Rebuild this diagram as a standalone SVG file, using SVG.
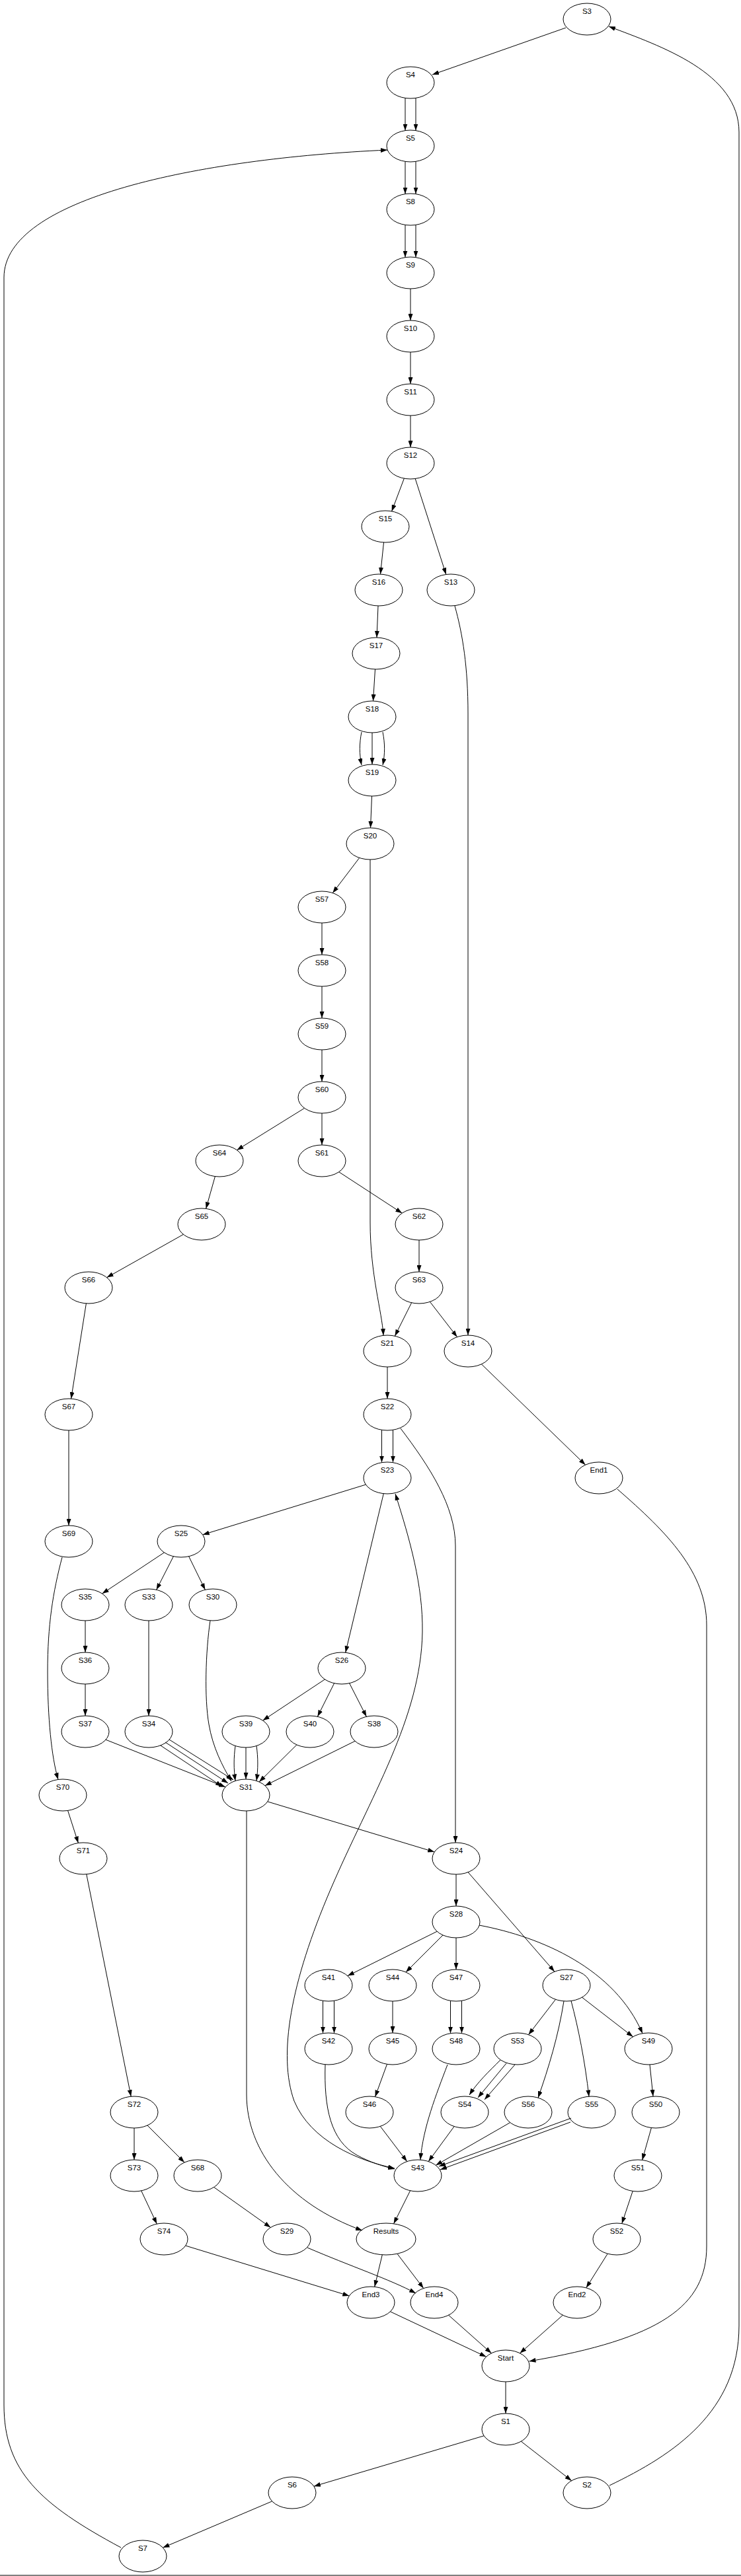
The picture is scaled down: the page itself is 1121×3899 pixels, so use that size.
<svg xmlns="http://www.w3.org/2000/svg" width="1121" height="3899" viewBox="0 0 1121 3899">
<style>
.node ellipse{fill:none;stroke:#000;stroke-width:1}
.node text{font-family:"Liberation Sans",Arial,sans-serif;font-size:11.5px;text-anchor:middle;fill:#000}
.edge path{fill:none;stroke:#000;stroke-width:1;marker-end:url(#ah)}
</style>
<defs>
<marker id="ah" viewBox="0 0 10 7" refX="10" refY="3.5" markerWidth="10" markerHeight="7" markerUnits="userSpaceOnUse" orient="auto"><path d="M0,0 L10,3.5 L0,7 z" fill="#000"/></marker>
<marker id="ahs" viewBox="0 0 10 7" refX="10" refY="3.5" markerWidth="10" markerHeight="7" markerUnits="userSpaceOnUse" orient="auto-start-reverse"><path d="M0,0 L10,3.5 L0,7 z" fill="#000"/></marker>
</defs>
<rect x="0" y="0" width="1121" height="3899" fill="#fff"/>
<line x1="0" y1="3898" x2="1121" y2="3898" stroke="#808080" stroke-width="2"/>
<g id="edges" class="edge">
<path d="M856,42 L654,113"/>
<path d="M613,148.5 L613,197.5"/>
<path d="M629,148.5 L629,197.5"/>
<path d="M613,244.5 L613,293.5"/>
<path d="M629,244.5 L629,293.5"/>
<path d="M613,340.5 L613,389.5"/>
<path d="M629,340.5 L629,389.5"/>
<path d="M621,437 L621,485"/>
<path d="M621,533 L621,581"/>
<path d="M621,629 L621,677"/>
<path d="M611.4,724.1 L592.6,773.9"/>
<path d="M628.2,724.5 L674.8,869.5"/>
<path d="M580.5,821 L575.5,869"/>
<path d="M572,917 L570,965"/>
<path d="M567.5,1013 L564.5,1061"/>
<path d="M547,1108 C543.5,1125 543.5,1142 547,1158"/>
<path d="M563,1109 L563,1157"/>
<path d="M579,1108 C582.5,1125 582.5,1142 579,1158"/>
<path d="M562.5,1205 L560.5,1253"/>
<path d="M543.7,1298.4 L503.3,1351.6"/>
<path d="M560,1301 L560,1850 C560,1930 578,1985 580,2021.3"/>
<path d="M688,917 C700,960 708,1010 708,1080 L708,2021"/>
<path d="M487,1397 L487,1445"/>
<path d="M487,1493 L487,1541"/>
<path d="M487,1589 L487,1637"/>
<path d="M460.6,1677.3 L358.4,1740.7"/>
<path d="M487,1685 L487,1733"/>
<path d="M512.7,1773.8 L608.3,1836.2"/>
<path d="M325.4,1780.6 L311.6,1829.4"/>
<path d="M277.4,1868.4 L161.6,1933.6"/>
<path d="M634,1877 L634,1925"/>
<path d="M622.6,1971.8 L597.4,2022.2"/>
<path d="M650.4,1970.3 L691.6,2023.7"/>
<path d="M130.4,1972.9 L107.6,2117.1"/>
<path d="M586,2069 L586,2117"/>
<path d="M728.4,2064.8 L885.6,2217.2"/>
<path d="M577.5,2164.5 L577.5,2213.5"/>
<path d="M594.5,2164.5 L594.5,2213.5"/>
<path d="M606,2162 C650,2220 689,2280 689,2340 L689,2789"/>
<path d="M934,2254 C1010,2320 1069,2380 1069,2460 L1069,3400 C1069,3490 1000,3540 800.5,3574"/>
<path d="M553.3,2247.1 L306.7,2322.9"/>
<path d="M580.3,2260.7 L522.7,2501.3"/>
<path d="M598,2261 C620,2330 640,2400 639,2470 C637,2600 560,2720 500,2860 C440,3000 420,3110 445,3180 C470,3240 540,3270 597,3282" marker-start="url(#ahs)"/>
<path d="M248.4,2349.9 L154.6,2412.1"/>
<path d="M262.4,2355.7 L236.6,2406.3"/>
<path d="M285.6,2355.7 L310.4,2406.3"/>
<path d="M129,2453 L129,2501"/>
<path d="M129,2549 L129,2597"/>
<path d="M225,2453 L225,2597"/>
<path d="M318,2453 C311,2500 309,2570 316,2610 C322,2645 336,2672 350,2696"/>
<path d="M491.4,2541.9 L397.6,2604.1"/>
<path d="M505.6,2547.8 L480.4,2598.2"/>
<path d="M528.6,2547.7 L554.4,2598.3"/>
<path d="M160,2633.2 L341,2704.8"/>
<path d="M243,2642 L336,2704"/>
<path d="M250,2637 L345,2699"/>
<path d="M256,2633 L353,2694"/>
<path d="M356,2642.5 C353.5,2660 353.5,2678 356,2695.5"/>
<path d="M372,2645 L372,2693"/>
<path d="M388,2642.5 C390.5,2660 390.5,2678 388,2695.5"/>
<path d="M448.9,2640.9 L392.1,2697.1"/>
<path d="M537.1,2635.3 L400.9,2702.7"/>
<path d="M404.8,2726.9 L657.2,2803.1"/>
<path d="M373,2741 L373,3170 C373,3255 435,3335 548,3376"/>
<path d="M94,2357 C80,2410 72,2460 72,2530 C72,2600 78,2660 88,2693.5"/>
<path d="M104,2165 L104,2309"/>
<path d="M102.6,2740.5 L118.4,2789.5"/>
<path d="M130.8,2836.8 L198.2,3173.2"/>
<path d="M690,2837 L690,2885"/>
<path d="M708.1,2833.8 L838.9,2984.2"/>
<path d="M661.1,2923.4 L525.9,2990.6"/>
<path d="M670,2929 L614,2985"/>
<path d="M690,2933 L690,2981"/>
<path d="M725,2914 C820,2932 930,2980 972,3077.8"/>
<path d="M488.5,3028.4 L488.5,3077.6"/>
<path d="M505.5,3028.4 L505.5,3077.6"/>
<path d="M594,3029 L594,3077"/>
<path d="M681.5,3028.4 L681.5,3077.6"/>
<path d="M698.5,3028.4 L698.5,3077.6"/>
<path d="M840.5,3026.3 L799.5,3079.7"/>
<path d="M853,3029 C845,3080 830,3130 814,3175.2"/>
<path d="M864,3028.5 C875,3070 885,3120 891,3173.5"/>
<path d="M880.5,3023.2 L957.5,3082.8"/>
<path d="M492,3125 C490,3190 500,3240 540,3262 C560,3273 580,3279 597,3283"/>
<path d="M585.5,3124.3 L567.5,3173.7"/>
<path d="M677,3125 C660,3170 640,3220 636,3269"/>
<path d="M757,3118 C740,3135 722,3152 710,3171"/>
<path d="M766,3123 L723,3175"/>
<path d="M779,3125 L733,3178"/>
<path d="M983,3125 L988,3173"/>
<path d="M575.3,3218.4 L615.7,3271.6"/>
<path d="M687.2,3218.4 L648.2,3271.6"/>
<path d="M771.7,3212.7 L659.3,3277.3"/>
<path d="M864,3206 L664,3279"/>
<path d="M863,3212 L666,3284"/>
<path d="M985.4,3220.6 L971.6,3269.4"/>
<path d="M203,3221 L203,3269"/>
<path d="M223,3217 L279,3273"/>
<path d="M620.6,3315.8 L595.6,3365.8"/>
<path d="M957.2,3316.4 L940.8,3365.6"/>
<path d="M213.7,3315.9 L237.3,3366.1"/>
<path d="M323.6,3310.5 L409.4,3371.5"/>
<path d="M280.7,3399 L528.3,3475"/>
<path d="M465,3402 C530,3430 590,3450 629,3471"/>
<path d="M578.3,3412.8 L566.7,3461.3"/>
<path d="M600.9,3411.2 L640.7,3463.6"/>
<path d="M919.2,3411.2 L886.8,3462.8"/>
<path d="M590.4,3498.8 L735.6,3567.2"/>
<path d="M678.6,3504.2 L743.4,3561.8"/>
<path d="M851.4,3504.2 L786.6,3561.8"/>
<path d="M765,3605 L765,3653"/>
<path d="M732.1,3686.8 L474.9,3763.2"/>
<path d="M788.4,3695.3 L864.6,3754.7"/>
<path d="M411.6,3785.9 L246.4,3856.1"/>
<path d="M183,3856 C60,3790 6,3740 6,3640 L6,420 C6,300 300,240 586,227"/>
<path d="M922,3762 C1020,3715 1118,3650 1118,3520 L1118,200 C1118,110 1000,70 921,40"/>
</g>
<g id="S3" class="node"><ellipse cx="888" cy="29" rx="36" ry="24"/><text x="888" y="21">S3</text></g>
<g id="S4" class="node"><ellipse cx="621" cy="125" rx="36" ry="24"/><text x="621" y="117">S4</text></g>
<g id="S5" class="node"><ellipse cx="621" cy="221" rx="36" ry="24"/><text x="621" y="213">S5</text></g>
<g id="S8" class="node"><ellipse cx="621" cy="317" rx="36" ry="24"/><text x="621" y="309">S8</text></g>
<g id="S9" class="node"><ellipse cx="621" cy="413" rx="36" ry="24"/><text x="621" y="405">S9</text></g>
<g id="S10" class="node"><ellipse cx="621" cy="509" rx="36" ry="24"/><text x="621" y="501">S10</text></g>
<g id="S11" class="node"><ellipse cx="621" cy="605" rx="36" ry="24"/><text x="621" y="597">S11</text></g>
<g id="S12" class="node"><ellipse cx="621" cy="701" rx="36" ry="24"/><text x="621" y="693">S12</text></g>
<g id="S15" class="node"><ellipse cx="583" cy="797" rx="36" ry="24"/><text x="583" y="789">S15</text></g>
<g id="S16" class="node"><ellipse cx="573" cy="893" rx="36" ry="24"/><text x="573" y="885">S16</text></g>
<g id="S13" class="node"><ellipse cx="682" cy="893" rx="36" ry="24"/><text x="682" y="885">S13</text></g>
<g id="S17" class="node"><ellipse cx="569" cy="989" rx="36" ry="24"/><text x="569" y="981">S17</text></g>
<g id="S18" class="node"><ellipse cx="563" cy="1085" rx="36" ry="24"/><text x="563" y="1077">S18</text></g>
<g id="S19" class="node"><ellipse cx="563" cy="1181" rx="36" ry="24"/><text x="563" y="1173">S19</text></g>
<g id="S20" class="node"><ellipse cx="560" cy="1277" rx="36" ry="24"/><text x="560" y="1269">S20</text></g>
<g id="S57" class="node"><ellipse cx="487" cy="1373" rx="36" ry="24"/><text x="487" y="1365">S57</text></g>
<g id="S58" class="node"><ellipse cx="487" cy="1469" rx="36" ry="24"/><text x="487" y="1461">S58</text></g>
<g id="S59" class="node"><ellipse cx="487" cy="1565" rx="36" ry="24"/><text x="487" y="1557">S59</text></g>
<g id="S60" class="node"><ellipse cx="487" cy="1661" rx="36" ry="24"/><text x="487" y="1653">S60</text></g>
<g id="S64" class="node"><ellipse cx="332" cy="1757" rx="36" ry="24"/><text x="332" y="1749">S64</text></g>
<g id="S61" class="node"><ellipse cx="487" cy="1757" rx="36" ry="24"/><text x="487" y="1749">S61</text></g>
<g id="S65" class="node"><ellipse cx="305" cy="1853" rx="36" ry="24"/><text x="305" y="1845">S65</text></g>
<g id="S62" class="node"><ellipse cx="634" cy="1853" rx="36" ry="24"/><text x="634" y="1845">S62</text></g>
<g id="S66" class="node"><ellipse cx="134" cy="1949" rx="36" ry="24"/><text x="134" y="1941">S66</text></g>
<g id="S63" class="node"><ellipse cx="634" cy="1949" rx="36" ry="24"/><text x="634" y="1941">S63</text></g>
<g id="S21" class="node"><ellipse cx="586" cy="2045" rx="36" ry="24"/><text x="586" y="2037">S21</text></g>
<g id="S14" class="node"><ellipse cx="708" cy="2045" rx="36" ry="24"/><text x="708" y="2037">S14</text></g>
<g id="S67" class="node"><ellipse cx="104" cy="2141" rx="36" ry="24"/><text x="104" y="2133">S67</text></g>
<g id="S22" class="node"><ellipse cx="586" cy="2141" rx="36" ry="24"/><text x="586" y="2133">S22</text></g>
<g id="S23" class="node"><ellipse cx="586" cy="2237" rx="36" ry="24"/><text x="586" y="2229">S23</text></g>
<g id="End1" class="node"><ellipse cx="906" cy="2237" rx="36" ry="24"/><text x="906" y="2229">End1</text></g>
<g id="S69" class="node"><ellipse cx="104" cy="2333" rx="36" ry="24"/><text x="104" y="2325">S69</text></g>
<g id="S25" class="node"><ellipse cx="274" cy="2333" rx="36" ry="24"/><text x="274" y="2325">S25</text></g>
<g id="S35" class="node"><ellipse cx="129" cy="2429" rx="36" ry="24"/><text x="129" y="2421">S35</text></g>
<g id="S33" class="node"><ellipse cx="225" cy="2429" rx="36" ry="24"/><text x="225" y="2421">S33</text></g>
<g id="S30" class="node"><ellipse cx="322" cy="2429" rx="36" ry="24"/><text x="322" y="2421">S30</text></g>
<g id="S36" class="node"><ellipse cx="129" cy="2525" rx="36" ry="24"/><text x="129" y="2517">S36</text></g>
<g id="S26" class="node"><ellipse cx="517" cy="2525" rx="36" ry="24"/><text x="517" y="2517">S26</text></g>
<g id="S37" class="node"><ellipse cx="129" cy="2621" rx="36" ry="24"/><text x="129" y="2613">S37</text></g>
<g id="S34" class="node"><ellipse cx="225" cy="2621" rx="36" ry="24"/><text x="225" y="2613">S34</text></g>
<g id="S39" class="node"><ellipse cx="372" cy="2621" rx="36" ry="24"/><text x="372" y="2613">S39</text></g>
<g id="S40" class="node"><ellipse cx="469" cy="2621" rx="36" ry="24"/><text x="469" y="2613">S40</text></g>
<g id="S38" class="node"><ellipse cx="566" cy="2621" rx="36" ry="24"/><text x="566" y="2613">S38</text></g>
<g id="S70" class="node"><ellipse cx="95" cy="2717" rx="36" ry="24"/><text x="95" y="2709">S70</text></g>
<g id="S31" class="node"><ellipse cx="372" cy="2717" rx="36" ry="24"/><text x="372" y="2709">S31</text></g>
<g id="S71" class="node"><ellipse cx="126" cy="2813" rx="36" ry="24"/><text x="126" y="2805">S71</text></g>
<g id="S24" class="node"><ellipse cx="690" cy="2813" rx="36" ry="24"/><text x="690" y="2805">S24</text></g>
<g id="S28" class="node"><ellipse cx="690" cy="2909" rx="36" ry="24"/><text x="690" y="2901">S28</text></g>
<g id="S41" class="node"><ellipse cx="497" cy="3005" rx="36" ry="24"/><text x="497" y="2997">S41</text></g>
<g id="S44" class="node"><ellipse cx="594" cy="3005" rx="36" ry="24"/><text x="594" y="2997">S44</text></g>
<g id="S47" class="node"><ellipse cx="690" cy="3005" rx="36" ry="24"/><text x="690" y="2997">S47</text></g>
<g id="S27" class="node"><ellipse cx="857" cy="3005" rx="36" ry="24"/><text x="857" y="2997">S27</text></g>
<g id="S42" class="node"><ellipse cx="497" cy="3101" rx="36" ry="24"/><text x="497" y="3093">S42</text></g>
<g id="S45" class="node"><ellipse cx="594" cy="3101" rx="36" ry="24"/><text x="594" y="3093">S45</text></g>
<g id="S48" class="node"><ellipse cx="690" cy="3101" rx="36" ry="24"/><text x="690" y="3093">S48</text></g>
<g id="S53" class="node"><ellipse cx="783" cy="3101" rx="36" ry="24"/><text x="783" y="3093">S53</text></g>
<g id="S49" class="node"><ellipse cx="981" cy="3101" rx="36" ry="24"/><text x="981" y="3093">S49</text></g>
<g id="S72" class="node"><ellipse cx="203" cy="3197" rx="36" ry="24"/><text x="203" y="3189">S72</text></g>
<g id="S46" class="node"><ellipse cx="559" cy="3197" rx="36" ry="24"/><text x="559" y="3189">S46</text></g>
<g id="S54" class="node"><ellipse cx="703" cy="3197" rx="36" ry="24"/><text x="703" y="3189">S54</text></g>
<g id="S56" class="node"><ellipse cx="799" cy="3197" rx="36" ry="24"/><text x="799" y="3189">S56</text></g>
<g id="S55" class="node"><ellipse cx="895" cy="3197" rx="36" ry="24"/><text x="895" y="3189">S55</text></g>
<g id="S50" class="node"><ellipse cx="992" cy="3197" rx="36" ry="24"/><text x="992" y="3189">S50</text></g>
<g id="S73" class="node"><ellipse cx="203" cy="3293" rx="36" ry="24"/><text x="203" y="3285">S73</text></g>
<g id="S68" class="node"><ellipse cx="299" cy="3293" rx="36" ry="24"/><text x="299" y="3285">S68</text></g>
<g id="S43" class="node"><ellipse cx="632" cy="3293" rx="36" ry="24"/><text x="632" y="3285">S43</text></g>
<g id="S51" class="node"><ellipse cx="965" cy="3293" rx="36" ry="24"/><text x="965" y="3285">S51</text></g>
<g id="S74" class="node"><ellipse cx="248" cy="3389" rx="36" ry="24"/><text x="248" y="3381">S74</text></g>
<g id="S29" class="node"><ellipse cx="434" cy="3389" rx="36" ry="24"/><text x="434" y="3381">S29</text></g>
<g id="Results" class="node"><ellipse cx="584" cy="3389" rx="45" ry="24"/><text x="584" y="3381">Results</text></g>
<g id="S52" class="node"><ellipse cx="933" cy="3389" rx="36" ry="24"/><text x="933" y="3381">S52</text></g>
<g id="End3" class="node"><ellipse cx="561" cy="3485" rx="36" ry="24"/><text x="561" y="3477">End3</text></g>
<g id="End4" class="node"><ellipse cx="657" cy="3485" rx="36" ry="24"/><text x="657" y="3477">End4</text></g>
<g id="End2" class="node"><ellipse cx="873" cy="3485" rx="36" ry="24"/><text x="873" y="3477">End2</text></g>
<g id="Start" class="node"><ellipse cx="765" cy="3581" rx="36" ry="24"/><text x="765" y="3573">Start</text></g>
<g id="S1" class="node"><ellipse cx="765" cy="3677" rx="36" ry="24"/><text x="765" y="3669">S1</text></g>
<g id="S6" class="node"><ellipse cx="442" cy="3773" rx="36" ry="24"/><text x="442" y="3765">S6</text></g>
<g id="S2" class="node"><ellipse cx="888" cy="3773" rx="36" ry="24"/><text x="888" y="3765">S2</text></g>
<g id="S7" class="node"><ellipse cx="216" cy="3869" rx="36" ry="24"/><text x="216" y="3861">S7</text></g>
</svg>
